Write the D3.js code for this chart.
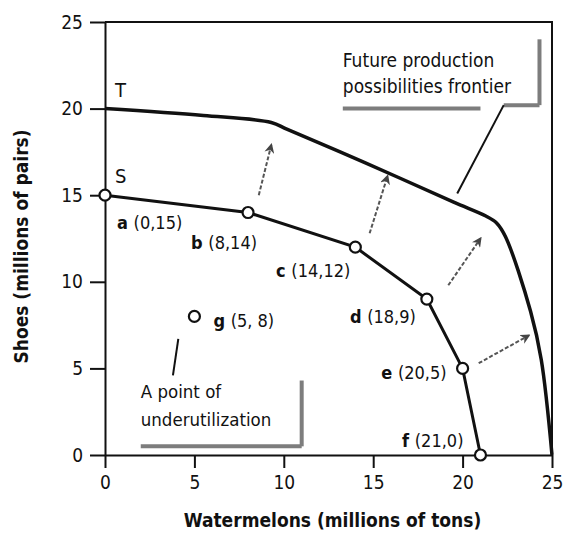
<!DOCTYPE html>
<html>
<head>
<meta charset="utf-8">
<script src="https://cdn.jsdelivr.net/npm/d3@7"></script>
<style>
body { margin: 0; background: #fff; }
svg text { font-family: "DejaVu Sans Condensed", "DejaVu Sans", sans-serif !important; font-stretch: condensed; fill: #111; }
</style>
</head>
<body>
<script>
// production possibilities, today (S) and in the future (T)
var pointNames = ['a', 'b', 'c', 'd', 'e', 'f']
var watermelons = [0, 8, 14, 18, 20, 21]
var shoes = [15, 14, 12, 9, 5, 0]
var pointLabels = ['(0,15)', '(8,14)', '(14,12)', '(18,9)', '(20,5)', '(21,0)']

var idlePoint = {name: 'g', label: '(5, 8)', x: 5, y: 8}

var futureWatermelons = [0, 5.5, 9.3, 10.2, 14.5, 19.5, 21.3, 21.9, 22.4, 23.8, 24.4, 25]
var futureShoes = [20, 19.6, 19.2, 18.8, 16.9, 14.6, 13.8, 13.4, 12.6, 8.3, 5.5, 0]

// growth arrows from S out toward T
var arrowFrom = [[8.6, 15.0], [14.8, 12.8], [19.2, 9.8], [20.9, 5.3]]
var arrowTo = [[9.3, 17.9], [15.8, 16.1], [21.0, 12.5], [23.7, 6.9]]

var xTicks = [0, 5, 10, 15, 20, 25]
var yTicks = [0, 5, 10, 15, 20, 25]

var width = 566,
    height = 538

var svg = d3.select('body').append('svg')
    .attr('width', width)
    .attr('height', height)

var x = d3.scaleLinear().domain([0, 25]).range([105, 552])
var y = d3.scaleLinear().domain([0, 25]).range([455, 22])

// axes
var xAxis = svg.append('g')
    .attr('transform', 'translate(0,' + y(0) + ')')
    .call(d3.axisBottom(x).tickValues(xTicks).tickSize(13).tickSizeOuter(0).tickPadding(8))
var yAxis = svg.append('g')
    .attr('transform', 'translate(' + x(0) + ',0)')
    .call(d3.axisLeft(y).tickValues(yTicks).tickSize(15).tickSizeOuter(0).tickPadding(7))

;[xAxis, yAxis].forEach(g => {
    g.selectAll('path').attr('stroke', '#111').attr('stroke-width', 2)
    g.selectAll('line').attr('stroke', '#111').attr('stroke-width', 2)
    g.selectAll('text').attr('font-size', 19).attr('fill', '#111')
})

// frame top and right
svg.append('path')
    .attr('d', d3.line()([[x(0), y(25)], [x(25), y(25)], [x(25), y(0)]]))
    .attr('fill', 'none')
    .attr('stroke', '#111')
    .attr('stroke-width', 2)

// axis titles
svg.append('text')
    .attr('x', (x(0) + x(25)) / 2 + 4)
    .attr('y', 527)
    .attr('text-anchor', 'middle')
    .attr('font-size', 19)
    .attr('font-weight', 'bold')
    .text('Watermelons (millions of tons)')

svg.append('text')
    .attr('transform', 'translate(28,' + (y(12.5) + 8) + ') rotate(-90)')
    .attr('text-anchor', 'middle')
    .attr('font-size', 19)
    .attr('font-weight', 'bold')
    .text('Shoes (millions of pairs)')

// grey shadow edges of the two callout boxes
var shade = '#7d7d7d'
function bar(x0, y0, x1, y1) {
    svg.append('line')
        .attr('x1', x(x0)).attr('y1', y(y0))
        .attr('x2', x(x1)).attr('y2', y(y1))
        .attr('stroke', shade)
        .attr('stroke-width', 4)
}
bar(13.3, 20.0, 21.0, 20.0)
bar(22.3, 20.2, 24.3, 20.2)
bar(24.3, 20.2, 24.3, 24.0)
bar(2.0, 0.5, 11.0, 0.5)
bar(11.0, 0.5, 11.0, 4.3)

// callout texts
var future = svg.append('text').attr('font-size', 19)
future.append('tspan').attr('x', x(13.3)).attr('y', y(22.4)).text('Future production')
future.append('tspan').attr('x', x(13.3)).attr('y', y(20.9)).text('possibilities frontier')

var idle = svg.append('text').attr('font-size', 18.5)
idle.append('tspan').attr('x', x(2.0)).attr('y', y(3.3)).text('A point of')
idle.append('tspan').attr('x', x(2.0)).attr('y', y(1.7)).text('underutilization')

// leader lines
svg.append('line')
    .attr('x1', x(22.3)).attr('y1', y(20.2))
    .attr('x2', x(19.7)).attr('y2', y(15.1))
    .attr('stroke', '#111').attr('stroke-width', 2)
svg.append('line')
    .attr('x1', x(4.1)).attr('y1', y(6.7))
    .attr('x2', x(3.8)).attr('y2', y(4.6))
    .attr('stroke', '#111').attr('stroke-width', 2)

// arrow heads
svg.append('defs').append('marker')
    .attr('id', 'head')
    .attr('viewBox', '0 0 10 10')
    .attr('refX', 8).attr('refY', 5)
    .attr('markerWidth', 5).attr('markerHeight', 5)
    .attr('orient', 'auto')
    .append('path')
    .attr('d', 'M0,0 L10,5 L0,10 L3,5 Z')
    .attr('fill', '#444')

svg.selectAll('.grow')
    .data(arrowFrom).enter()
    .append('line')
    .attr('class', 'grow')
    .attr('x1', d => x(d[0])).attr('y1', d => y(d[1]))
    .attr('x2', (d, i) => x(arrowTo[i][0])).attr('y2', (d, i) => y(arrowTo[i][1]))
    .attr('stroke', '#555')
    .attr('stroke-width', 2)
    .attr('stroke-dasharray', '4,2')
    .attr('marker-end', 'url(#head)')

// future frontier T
var tLine = d3.line()
    .x(d => x(d[0]))
    .y(d => y(d[1]))
    .curve(d3.curveCatmullRom.alpha(0.5))
svg.append('path')
    .datum(futureWatermelons.map((w, i) => [w, futureShoes[i]]))
    .attr('d', tLine)
    .attr('fill', 'none')
    .attr('stroke', '#111')
    .attr('stroke-width', 3.5)

// current frontier S
var pts = watermelons.map((w, i) => ({name: pointNames[i], label: pointLabels[i], x: w, y: shoes[i]}))
svg.append('path')
    .datum(pts)
    .attr('d', d3.line().x(d => x(d.x)).y(d => y(d.y)))
    .attr('fill', 'none')
    .attr('stroke', '#111')
    .attr('stroke-width', 3)

svg.append('text').attr('x', x(0) + 10).attr('y', y(20) - 12).attr('font-size', 20).text('T')
svg.append('text').attr('x', x(0) + 10).attr('y', y(15) - 12).attr('font-size', 20).text('S')

// label offsets, in pixels from each point
var offsets = [
    {dx: 12, dy: 34, anchor: 'start'},
    {dx: 9, dy: 36, anchor: 'end'},
    {dx: -5, dy: 30, anchor: 'end'},
    {dx: -11, dy: 24, anchor: 'end'},
    {dx: -16, dy: 11, anchor: 'end'},
    {dx: -17, dy: -8, anchor: 'end'},
    {dx: 19, dy: 11, anchor: 'start'}
]

var all = pts.concat([idlePoint])

svg.selectAll('circle')
    .data(all).enter()
    .append('circle')
    .attr('cx', d => x(d.x))
    .attr('cy', d => y(d.y))
    .attr('r', 5.5)
    .attr('fill', '#fff')
    .attr('stroke', '#111')
    .attr('stroke-width', 2.2)

var lab = svg.selectAll('.plabel')
    .data(all).enter()
    .append('text')
    .attr('class', 'plabel')
    .attr('x', (d, i) => x(d.x) + offsets[i].dx)
    .attr('y', (d, i) => y(d.y) + offsets[i].dy)
    .attr('text-anchor', (d, i) => offsets[i].anchor)
    .attr('font-size', 18)
lab.append('tspan').attr('font-weight', 'bold').text(d => d.name + ' ')
lab.append('tspan').text(d => d.label)
</script>
</body>
</html>
